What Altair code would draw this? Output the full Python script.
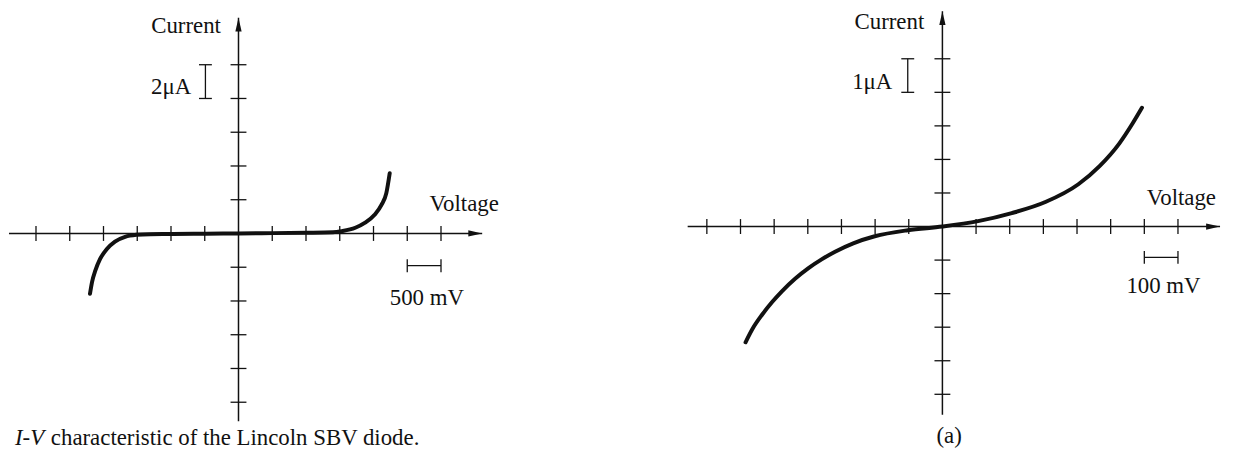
import altair as alt
import pandas as pd

# ---------------- data ----------------
# Left panel: Lincoln SBV diode, voltage in V, current in µA
left_v = [-2.20, -2.17, -2.12, -2.05, -1.95, -1.83, -1.68, -1.51, -1.31,
          -0.97, -0.48, 0.0, 0.51, 1.01, 1.40, 1.53, 1.73, 1.87, 2.02,
          2.12, 2.19, 2.24]
left_i = [-3.57, -2.88, -2.19, -1.51, -0.92, -0.48, -0.20, -0.08, -0.04,
          -0.03, -0.01, 0.0, 0.02, 0.04, 0.07, 0.14, 0.34, 0.63, 1.12,
          1.71, 2.39, 3.57]

# Right panel (a): voltage in mV, current in µA
right_v = [-585, -565, -536, -506, -477, -437, -398, -359, -319, -265,
           -201, -103, 0, 106, 206, 306, 404, 467, 526, 565, 593]
right_i = [-3.45, -3.06, -2.63, -2.25, -1.93, -1.55, -1.24, -0.98, -0.75,
           -0.50, -0.29, -0.11, 0.0, 0.16, 0.40, 0.73, 1.26, 1.80, 2.48,
           3.07, 3.54]

left_xticks = [-3, -2.5, -2, -1.5, -1, -0.5, 0.5, 1, 1.5, 2, 2.5, 3]
left_yticks = [-10, -8, -6, -4, -2, 2, 4, 6, 8, 10]
right_xticks = [-700, -600, -500, -400, -300, -200, -100,
                100, 200, 300, 400, 500, 600, 700]
right_yticks = [-5, -4, -3, -2, -1, 1, 2, 3, 4, 5]

FONT = "Liberation Serif"
FS = 23
INK = "#111111"
ARROW_R = "M0,0L-2,-0.45L-2,0.45Z"
ARROW_U = "M0,0L-0.45,2L0.45,2Z"


def panel(v, i, xticks, yticks, xdom, ydom, width, height,
          xaxis, yaxis, labels, vbar, hbar):
    xs = alt.Scale(domain=xdom, nice=False, zero=False)
    ys = alt.Scale(domain=ydom, nice=False, zero=False)
    one = pd.DataFrame({"k": [0]})

    def X(val):
        return alt.X(datum=val, scale=xs, axis=None)

    def Y(val):
        return alt.Y(datum=val, scale=ys, axis=None)

    layers = []
    # x axis line + arrow
    layers.append(alt.Chart(one).mark_rule(color=INK, strokeWidth=1.5).encode(
        x=X(xaxis[0]), x2=alt.X2(datum=xaxis[1]), y=Y(0)))
    layers.append(alt.Chart(one).mark_point(shape=ARROW_R, size=196, filled=True,
                                            color=INK, opacity=1, strokeWidth=0).encode(
        x=X(xaxis[1]), y=Y(0)))
    # y axis line + arrow
    layers.append(alt.Chart(one).mark_rule(color=INK, strokeWidth=1.5).encode(
        x=X(0), y=Y(yaxis[0]), y2=alt.Y2(datum=yaxis[1])))
    layers.append(alt.Chart(one).mark_point(shape=ARROW_U, size=196, filled=True,
                                            color=INK, opacity=1, strokeWidth=0).encode(
        x=X(0), y=Y(yaxis[1])))
    # tick marks
    layers.append(alt.Chart(pd.DataFrame({"t": xticks})).mark_tick(
        orient="vertical", size=15, thickness=1.3, color=INK, opacity=1).encode(
        x=alt.X("t:Q", scale=xs, axis=None), y=Y(0)))
    layers.append(alt.Chart(pd.DataFrame({"t": yticks})).mark_tick(
        orient="horizontal", size=16, thickness=1.3, color=INK, opacity=1).encode(
        y=alt.Y("t:Q", scale=ys, axis=None), x=X(0)))
    # curve
    layers.append(alt.Chart(pd.DataFrame({"v": v, "i": i})).mark_line(
        color=INK, strokeWidth=4, interpolate="monotone", strokeCap="round").encode(
        x=alt.X("v:Q", scale=xs, axis=None), y=alt.Y("i:Q", scale=ys, axis=None)))
    # vertical scale bar (current unit)
    bx, by0, by1 = vbar
    layers.append(alt.Chart(one).mark_rule(color=INK, strokeWidth=1.3).encode(
        x=X(bx), y=Y(by0), y2=alt.Y2(datum=by1)))
    layers.append(alt.Chart(pd.DataFrame({"t": [by0, by1]})).mark_tick(
        orient="horizontal", size=13, thickness=1.3, color=INK, opacity=1).encode(
        y=alt.Y("t:Q", scale=ys, axis=None), x=X(bx)))
    # horizontal scale bar (voltage unit)
    hx0, hx1, hy = hbar
    layers.append(alt.Chart(one).mark_rule(color=INK, strokeWidth=1.3).encode(
        x=X(hx0), x2=alt.X2(datum=hx1), y=Y(hy)))
    layers.append(alt.Chart(pd.DataFrame({"t": [hx0, hx1]})).mark_tick(
        orient="vertical", size=13, thickness=1.3, color=INK, opacity=1).encode(
        x=alt.X("t:Q", scale=xs, axis=None), y=Y(hy)))
    # labels
    for (txt, lx, ly, align, base, style) in labels:
        layers.append(alt.Chart(one).mark_text(
            text=txt, font=FONT, fontSize=FS, color=INK, align=align,
            baseline=base, fontStyle=style).encode(x=X(lx), y=Y(ly)))
    return alt.layer(*layers).properties(width=width, height=height)


left = panel(
    left_v, left_i, left_xticks, left_yticks,
    xdom=[-3.4, 3.85], ydom=[-12.912, 13.206], width=493, height=444,
    xaxis=(-3.4, 3.61), yaxis=(-11.13, 12.79),
    labels=[("Current", -0.26, 12.3, "right", "middle", "normal"),
            ("2μA", -0.70, 8.7, "right", "middle", "normal"),
            ("Voltage", 2.83, 1.72, "left", "middle", "normal"),
            ("500 mV", 2.79, -3.8, "center", "middle", "normal"),
            ("I-V", -2.88, -12.56, "right", "alphabetic", "italic"),
            ("characteristic of the Lincoln SBV diode.", -2.78, -12.56,
             "left", "alphabetic", "normal")],
    vbar=(-0.49, 8, 10), hbar=(2.5, 3.0, -1.91),
)

right = panel(
    right_v, right_i, right_xticks, right_yticks,
    xdom=[-1319.5, 845.7], ydom=[-6.701, 6.435], width=734, height=444,
    xaxis=(-757, 825), yaxis=(-5.61, 6.42),
    labels=[("Current", -54, 6.08, "right", "middle", "normal"),
            ("1μA", -149, 4.3, "right", "middle", "normal"),
            ("Voltage", 607, 0.85, "left", "middle", "normal"),
            ("100 mV", 657, -1.76, "center", "middle", "normal"),
            ("(a)", 20, -6.45, "center", "alphabetic", "normal")],
    vbar=(-103, 4, 5), hbar=(600, 700, -0.92),
)

chart = alt.hconcat(left, right, spacing=0, bounds="flush").properties(
    padding=0, background="white"
).configure_view(stroke=None)

chart.save("out.html", embed_options={"renderer": "svg", "actions": False})
